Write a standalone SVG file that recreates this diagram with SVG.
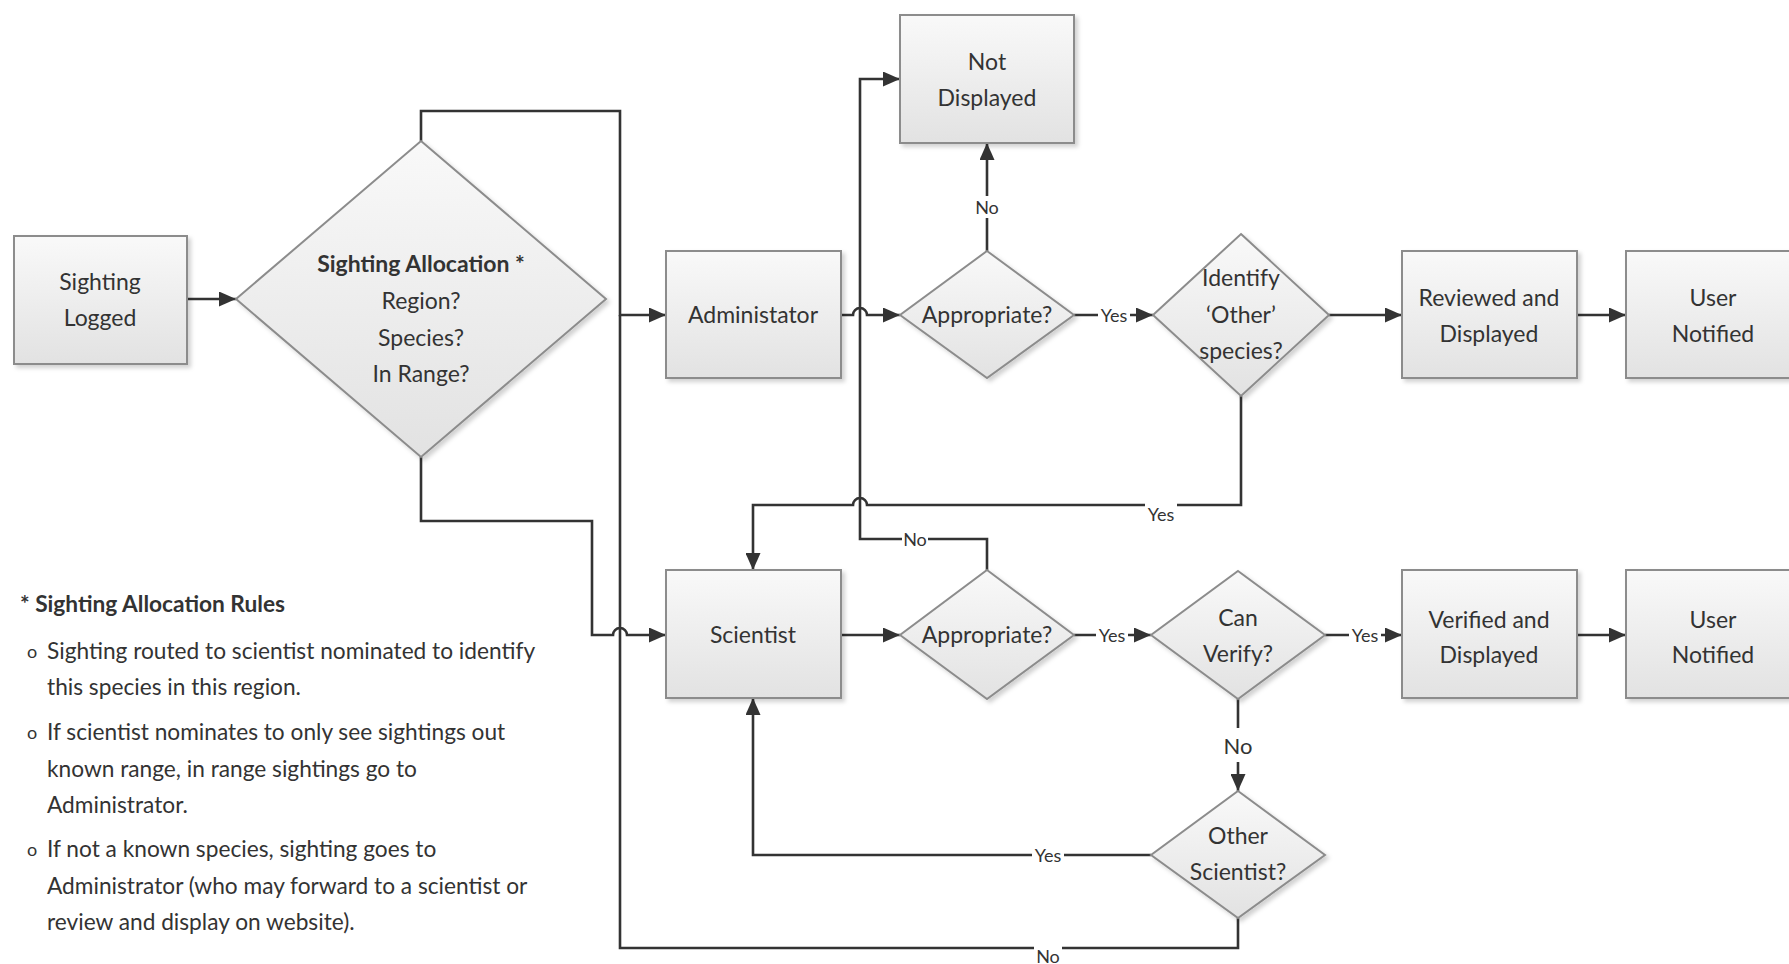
<svg xmlns="http://www.w3.org/2000/svg" width="1789" height="964" viewBox="0 0 1789 964">
  <defs>
    <linearGradient id="fillGrad" x1="0" y1="0" x2="0" y2="1">
      <stop offset="0" stop-color="#f9f9f9"/>
      <stop offset="1" stop-color="#e2e2e2"/>
    </linearGradient>
    <filter id="shadow" x="-10%" y="-10%" width="130%" height="130%">
      <feDropShadow dx="3" dy="3" stdDeviation="2" flood-color="#000" flood-opacity="0.18"/>
    </filter>
    <marker id="arrow" viewBox="0 0 17 15" refX="17" refY="7.5" markerWidth="17" markerHeight="15" markerUnits="userSpaceOnUse" orient="auto">
      <path d="M0,0 L17,7.5 L0,15 z" fill="#333"/>
    </marker>
  </defs>
  <style>
    .shape { fill: url(#fillGrad); stroke: #8c8c8c; stroke-width: 2; filter: url(#shadow); }
    .conn { fill: none; stroke: #333; stroke-width: 2.6; }
    .arr { marker-end: url(#arrow); }
    .t { font-family: Lato, "Liberation Sans", sans-serif; font-size: 23px; fill: #333; text-anchor: middle; }
    .tb { font-weight: bold; }
    .lbl { font-family: Lato, "Liberation Sans", sans-serif; font-size: 18px; fill: #333; text-anchor: middle; }
    .lbl-big { font-size: 22px; }
    .bg { fill: #fff; }
    .rules { font-family: Lato, "Liberation Sans", sans-serif; font-size: 22.7px; fill: #333; }
    .bullet { font-size: 18px; }
  </style>

  <!-- connectors -->
  <g id="connectors">
    <path class="conn arr" d="M187,299 H236"/>
    <path class="conn arr" d="M421,141 V111 H620 V315 H666"/>
    <path class="conn arr" d="M421,457 V521 H592 V635 H613 A7,7 0 0 1 627,635 H666"/>
    <path class="conn" d="M1238,918 V948 H620 V315"/>
    <path class="conn arr" d="M841,315 H853 A7,7 0 0 1 867,315 H900"/>
    <path class="conn arr" d="M987,570 V539 H860 V79 H900"/>
    <path class="conn arr" d="M987,251 V143"/>
    <path class="conn arr" d="M1074,315 H1153"/>
    <path class="conn arr" d="M1329,315 H1402"/>
    <path class="conn arr" d="M1577,315 H1626"/>
    <path class="conn arr" d="M1241,396 V505 H867 A7,7 0 0 0 853,505 H753 V570"/>
    <path class="conn arr" d="M841,635 H900"/>
    <path class="conn arr" d="M1074,635 H1151"/>
    <path class="conn arr" d="M1325,635 H1402"/>
    <path class="conn arr" d="M1577,635 H1626"/>
    <path class="conn arr" d="M1238,699 V791"/>
    <path class="conn arr" d="M1151,855 H753 V698"/>

    <!-- connector labels -->
    <rect class="bg" x="974" y="196" width="26" height="22"/>
    <text class="lbl" x="987" y="214">No</text>
    <rect class="bg" x="1098" y="306" width="32" height="18"/>
    <text class="lbl" x="1114" y="322">Yes</text>
    <rect class="bg" x="1145" y="502" width="32" height="22"/>
    <text class="lbl" x="1161" y="521">Yes</text>
    <rect class="bg" x="902" y="530" width="26" height="18"/>
    <text class="lbl" x="915" y="546">No</text>
    <rect class="bg" x="1096" y="626" width="32" height="18"/>
    <text class="lbl" x="1112" y="642">Yes</text>
    <rect class="bg" x="1349" y="626" width="32" height="18"/>
    <text class="lbl" x="1365" y="642">Yes</text>
    <rect class="bg" x="1222" y="728" width="32" height="34"/>
    <text class="lbl lbl-big" x="1238" y="754">No</text>
    <rect class="bg" x="1032" y="846" width="32" height="18"/>
    <text class="lbl" x="1048" y="862">Yes</text>
    <rect class="bg" x="1034" y="945" width="28" height="19"/>
    <text class="lbl" x="1048" y="963">No</text>
  </g>

  <!-- nodes -->
  <g id="sighting-logged">
    <rect class="shape" x="14" y="236" width="173" height="128"/>
    <text class="t" x="100" y="290">Sighting</text>
    <text class="t" x="100" y="326">Logged</text>
  </g>
  <g id="sighting-allocation">
    <polygon class="shape" points="421,141 606,299 421,457 236,299"/>
    <text class="t tb" x="421" y="272">Sighting Allocation *</text>
    <text class="t" x="421" y="309">Region?</text>
    <text class="t" x="421" y="346">Species?</text>
    <text class="t" x="421" y="382">In Range?</text>
  </g>
  <g id="administator">
    <rect class="shape" x="666" y="251" width="175" height="127"/>
    <text class="t" x="753" y="323">Administator</text>
  </g>
  <g id="not-displayed">
    <rect class="shape" x="900" y="15" width="174" height="128"/>
    <text class="t" x="987" y="70">Not</text>
    <text class="t" x="987" y="106">Displayed</text>
  </g>
  <g id="appropriate-admin">
    <polygon class="shape" points="987,251 1074,315 987,378 900,315"/>
    <text class="t" x="987" y="323">Appropriate?</text>
  </g>
  <g id="identify-other">
    <polygon class="shape" points="1241,234 1329,315 1241,396 1153,315"/>
    <text class="t" x="1241" y="286">Identify</text>
    <text class="t" x="1241" y="323">‘Other’</text>
    <text class="t" x="1241" y="359">species?</text>
  </g>
  <g id="reviewed-displayed">
    <rect class="shape" x="1402" y="251" width="175" height="127"/>
    <text class="t" x="1489" y="306">Reviewed and</text>
    <text class="t" x="1489" y="342">Displayed</text>
  </g>
  <g id="user-notified-reviewed">
    <rect class="shape" x="1626" y="251" width="175" height="127"/>
    <text class="t" x="1713" y="306">User</text>
    <text class="t" x="1713" y="342">Notified</text>
  </g>
  <g id="scientist">
    <rect class="shape" x="666" y="570" width="175" height="128"/>
    <text class="t" x="753" y="643">Scientist</text>
  </g>
  <g id="appropriate-scientist">
    <polygon class="shape" points="987,570 1074,635 987,699 900,635"/>
    <text class="t" x="987" y="643">Appropriate?</text>
  </g>
  <g id="can-verify">
    <polygon class="shape" points="1238,571 1325,635 1238,699 1151,635"/>
    <text class="t" x="1238" y="626">Can</text>
    <text class="t" x="1238" y="662">Verify?</text>
  </g>
  <g id="verified-displayed">
    <rect class="shape" x="1402" y="570" width="175" height="128"/>
    <text class="t" x="1489" y="628">Verified and</text>
    <text class="t" x="1489" y="663">Displayed</text>
  </g>
  <g id="user-notified-verified">
    <rect class="shape" x="1626" y="570" width="175" height="128"/>
    <text class="t" x="1713" y="628">User</text>
    <text class="t" x="1713" y="663">Notified</text>
  </g>
  <g id="other-scientist">
    <polygon class="shape" points="1238,791 1325,855 1238,918 1151,855"/>
    <text class="t" x="1238" y="844">Other</text>
    <text class="t" x="1238" y="880">Scientist?</text>
  </g>

  <!-- allocation rules note -->
  <g id="allocation-rules" class="rules">
    <text x="20" y="612" font-weight="bold">* Sighting Allocation Rules</text>
    <text class="bullet" x="27" y="658">o</text>
    <text x="47" y="659">Sighting routed to scientist nominated to identify</text>
    <text x="47" y="695">this species in this region.</text>
    <text class="bullet" x="27" y="739">o</text>
    <text x="47" y="740">If scientist nominates to only see sightings out</text>
    <text x="47" y="777">known range, in range sightings go to</text>
    <text x="47" y="813">Administrator.</text>
    <text class="bullet" x="27" y="856">o</text>
    <text x="47" y="857">If not a known species, sighting goes to</text>
    <text x="47" y="894">Administrator (who may forward to a scientist or</text>
    <text x="47" y="930">review and display on website).</text>
  </g>
</svg>
